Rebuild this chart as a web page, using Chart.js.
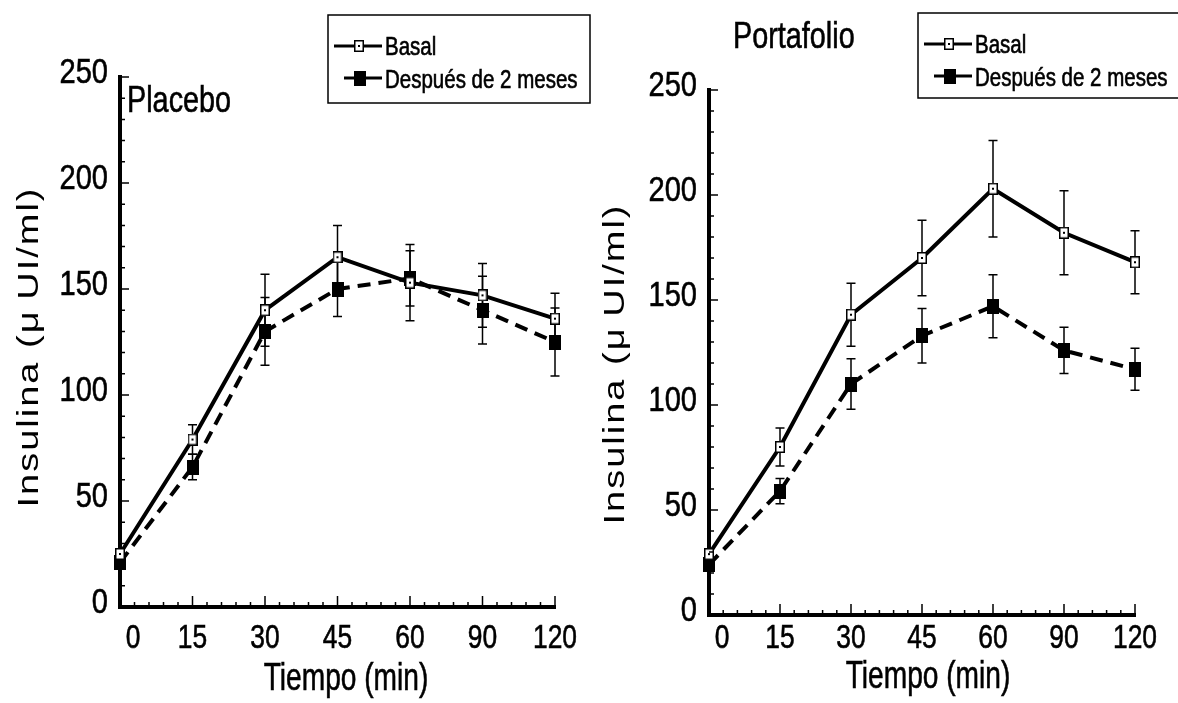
<!DOCTYPE html>
<html><head><meta charset="utf-8">
<script src="https://cdn.jsdelivr.net/npm/chart.js@4"></script>
<style>
html,body{margin:0;background:#fff}
#wrap{position:relative;width:1178px;height:703px;background:#fff}
#wrap canvas{position:absolute;left:0;top:0}
</style></head><body>
<div id="wrap"><canvas id="cPlacebo" width="1178" height="703"></canvas><canvas id="cPorta" width="1178" height="703"></canvas></div>
<script>
// ====== Datos ======
const tiempos = ['0','15','30','45','60','90','120'];
const yTicks  = [0, 50, 100, 150, 200, 250];
const placeboBasal      = [25, 79, 140, 165, 153, 147, 136];
const placeboBasalErr   = [2, 7, 17, 15, 18, 15, 12];
const placeboDespues    = [21, 66, 130, 150, 155, 140, 125];
const placeboDespuesErr = [2, 6, 16, 13, 13, 16, 16];
const portaBasal        = [29, 80, 143, 170, 203, 182, 168];
const portaBasalErr     = [2, 9, 15, 18, 23, 20, 15];
const portaDespues      = [24, 59, 110, 133, 147, 126, 117];
const portaDespuesErr   = [2, 6, 12, 13, 15, 11, 10];

const WIDE = "'Liberation Sans',Arial,Helvetica,sans-serif";

// texto estrechado (Helvetica Narrow no está instalada)
function sText(ctx,txt,x,y,size,sx,align){
  ctx.save(); ctx.translate(x,y); ctx.scale(sx,1);
  ctx.font=size+'px '+WIDE; ctx.textAlign=align; ctx.textBaseline='alphabetic';
  ctx.lineWidth=.6; ctx.strokeStyle='#000'; ctx.fillText(txt,0,0); ctx.strokeText(txt,0,0);
  ctx.restore();
}

// ====== Marcadores ======
function mkMarker(filled){
  const w=filled?12:10, h=filled?15:12, c=document.createElement('canvas'); c.width=w; c.height=h;
  const g=c.getContext('2d');
  if(filled){ g.fillStyle='#000'; g.fillRect(0,0,w,h); }
  else{ g.fillStyle='#fff'; g.fillRect(0,0,w,h); g.strokeStyle='#000'; g.lineWidth=1.5; g.strokeRect(.75,.75,w-1.5,h-1.5); g.fillStyle='#000'; g.fillRect(w/2-1,h/2-1,2,2); }
  return c;
}
const mOpen=mkMarker(false), mFill=mkMarker(true);

// ====== Barras de error ======
const errPlugin = {
  id:'errBars',
  beforeDatasetsDraw(chart){
    const ctx=chart.ctx, y=chart.scales.y;
    chart.data.datasets.forEach((ds,i)=>{
      ctx.save(); ctx.strokeStyle='#000'; ctx.lineWidth=1.5; ctx.beginPath();
      chart.getDatasetMeta(i).data.forEach((pt,j)=>{
        const e=ds.err[j]; if(!e) return;
        const y1=y.getPixelForValue(ds.data[j]+e), y2=y.getPixelForValue(ds.data[j]-e);
        ctx.moveTo(pt.x,y1); ctx.lineTo(pt.x,y2);
        ctx.moveTo(pt.x-4.5,y1); ctx.lineTo(pt.x+4.5,y1); ctx.moveTo(pt.x-4.5,y2); ctx.lineTo(pt.x+4.5,y2);
      });
      ctx.stroke(); ctx.restore();
    });
  }
};

// ====== Ticks, etiquetas, títulos, leyenda ======
const panelPlugin = {
  id:'panel',
  afterDraw(chart,args,o){
    const ctx=chart.ctx, x=chart.scales.x, y=chart.scales.y, a=chart.chartArea;
    ctx.save(); ctx.strokeStyle='#000'; ctx.fillStyle='#000'; ctx.lineWidth=1.5; ctx.beginPath();
    for(let v=10; v<=250; v+=10){ const py=y.getPixelForValue(v), len=v%50?5:9; ctx.moveTo(a.left,py); ctx.lineTo(a.left+len,py); }
    for(let i=0;i<tiempos.length-1;i++){
      const p0=x.getPixelForValue(i), p1=x.getPixelForValue(i+1);
      for(let k=1;k<=5;k++){ const px=p0+(p1-p0)*k/5, len=k===5?11:5; ctx.moveTo(px,a.bottom); ctx.lineTo(px,a.bottom-len); }
    }
    ctx.stroke();
    // etiquetas de ticks
    yTicks.forEach(v=> sText(ctx,String(v),a.left-12,y.getPixelForValue(v)+6,35,.83,'right'));
    tiempos.forEach((t,i)=> sText(ctx,t,Math.max(x.getPixelForValue(i),a.left+13),648,33,.8,'center'));
    // título eje y
    ctx.save(); ctx.translate(o.yTitle.x,o.yTitle.y); ctx.rotate(-Math.PI/2); ctx.scale(1,.76);
    ctx.font='38px '+WIDE; ctx.letterSpacing='2px'; ctx.textAlign='center'; ctx.textBaseline='alphabetic';
    ctx.fillText('Insulina (\u03BC\u2009UI/ml)',0,0); ctx.restore();
    // título eje x y nombre del panel
    sText(ctx,'Tiempo (min)',o.xTitle.x,o.xTitle.y,38,.74,'center');
    sText(ctx,o.label.text,o.label.x,o.label.y,36,.8,'left');
    // leyenda
    const L=o.legend;
    ctx.lineWidth=1.5; ctx.strokeRect(L.x,L.y,L.w,L.h);
    ctx.lineWidth=3; ctx.beginPath();
    ctx.moveTo(L.x+6,L.y+31); ctx.lineTo(L.x+54,L.y+31);
    ctx.moveTo(L.x+16,L.y+63); ctx.lineTo(L.x+54,L.y+63); ctx.stroke();
    ctx.drawImage(mOpen,L.x+31-mOpen.width/2,L.y+31-mOpen.height/2);
    ctx.drawImage(mFill,L.x+32-mFill.width/2,L.y+63-mFill.height/2);
    sText(ctx,'Basal',L.x+57,L.y+40,25,.82,'left');
    sText(ctx,'Después de 2 meses',L.x+57,L.y+73,25,.82,'left');
    ctx.restore();
  }
};

// ====== Panel ======
function panel(id, basal, basalErr, desp, despErr, lay, deco){
  return new Chart(document.getElementById(id), {
    type:'line',
    data:{ labels:tiempos, datasets:[
      {label:'Basal', data:basal, err:basalErr, borderColor:'#000', borderWidth:4, pointStyle:mOpen, pointRadius:6, clip:false},
      {label:'Después de 2 meses', data:desp, err:despErr, borderColor:'#000', borderWidth:4, borderDash:[13,8], pointStyle:mFill, pointRadius:7, clip:false}
    ]},
    options:{ responsive:false, animation:false,
      layout:{padding:{left:0,right:lay.right,top:lay.top,bottom:0}},
      plugins:{legend:{display:false}, tooltip:{enabled:false}, panel:deco},
      scales:{
        x:{ offset:false, grid:{display:false,drawTicks:false}, border:{color:'#000',width:4},
            ticks:{display:false,autoSkip:false}, afterFit:s=>{s.height=lay.xh;} },
        y:{ min:0, max:250, grid:{display:false,drawTicks:false}, border:{color:'#000',width:4},
            ticks:{display:false,stepSize:50}, afterFit:s=>{s.width=lay.yw;} }
      }
    },
    plugins:[errPlugin, panelPlugin]
  });
}

panel('cPlacebo', placeboBasal, placeboBasalErr, placeboDespues, placeboDespuesErr,
  {right:1178-555, top:77, xh:703-607, yw:120},
  {yTitle:{x:38,y:347}, xTitle:{x:346,y:690}, label:{text:'Placebo',x:127,y:112}, legend:{x:328,y:15,w:262,h:88}});
panel('cPorta', portaBasal, portaBasalErr, portaDespues, portaDespuesErr,
  {right:1178-1135, top:90, xh:703-615, yw:709},
  {yTitle:{x:624,y:364}, xTitle:{x:928,y:688}, label:{text:'Portafolio',x:733,y:48}, legend:{x:918,y:13,w:270,h:85}});
</script>
</body></html>
